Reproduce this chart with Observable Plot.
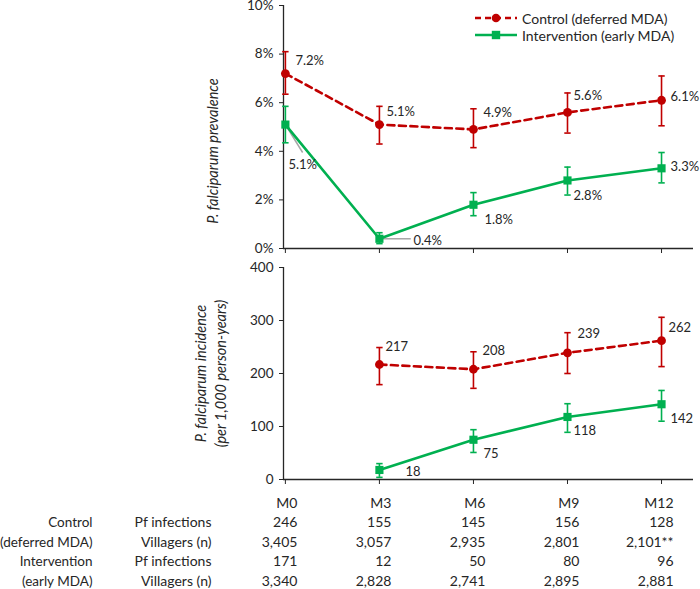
<!DOCTYPE html>
<html><head><meta charset="utf-8">
<script src="https://cdn.jsdelivr.net/npm/d3@7"></script>
<script src="https://cdn.jsdelivr.net/npm/@observablehq/plot@0.6"></script>
<style>
body{margin:0;background:#fff;font-family:Lato,'Open Sans',sans-serif;}
#wrap{position:relative;width:700px;height:589px;overflow:hidden;background:#fff}
#wrap svg{display:block}
#legend{position:absolute;left:475px;top:0;font-size:14px;color:#262626}
.lrow{position:absolute;left:0;white-space:nowrap;display:flex;align-items:center;height:18px}
.lrow svg{display:inline-block;margin-right:3px}
</style></head><body><div id="wrap"><div id="legend"></div></div>
<script>
// ---- data ----
const months = ["M0","M3","M6","M9","M12"];
const monthNum = [0,3,6,9,12];
const seriesNames = ["Control (deferred MDA)","Intervention (early MDA)"];

const prevControl   = [7.2, 5.1, 4.9, 5.6, 6.1];
const prevControlLo = [6.35,4.3, 4.15,4.75,5.05];
const prevControlHi = [8.1, 5.85,5.75,6.4, 7.1];
const prevInterv    = [5.1, 0.4, 1.8, 2.8, 3.3];
const prevIntervLo  = [4.35,0.2, 1.35,2.2, 2.7];
const prevIntervHi  = [5.85,0.65,2.3, 3.35,3.95];

const incControl   = [null,217,208,239,262];
const incControlLo = [null,179,172,200,213];
const incControlHi = [null,249,241,277,306];
const incInterv    = [null,18, 75, 118,142];
const incIntervLo  = [null,4,  51, 89, 110];
const incIntervHi  = [null,30, 94, 143,168];

const prevTicks = [0,2,4,6,8,10];
const incTicks = [0,100,200,300,400];

const tableGroup = ["Control","(deferred MDA)","Intervention","(early MDA)"];
const tableItem  = ["Pf infections","Villagers (n)","Pf infections","Villagers (n)"];
const pfControl   = ["246","155","145","156","128"];
const villControl = ["3,405","3,057","2,935","2,801","2,101**"];
const pfInterv    = ["171","12","50","80","96"];
const villInterv  = ["3,340","2,828","2,741","2,895","2,881"];

// ---- styling ----
const RED = "#C00000", GREEN = "#00B050", INK = "#262626", LEAD = "#A6A6A6";
const FONT = "Lato, 'Open Sans', sans-serif";
const xDomain = [-0.06, 13.02];
const hbar = {draw(ctx, size){ const w = Math.sqrt(size/Math.PI); ctx.moveTo(-w,0); ctx.lineTo(w,0); }};

function rows(vals, lo, hi, fmt){
  return monthNum.map((m,i)=>({m, v:vals[i], lo:lo[i], hi:hi[i], label: vals[i]==null ? null : fmt(vals[i])}))
                 .filter(d=>d.v!=null);
}
const pct = v => d3.format(".1f")(v) + "%";
const num = v => String(v);

function seriesMarks(data, color, dashed, symbol){
  return [
    Plot.line(data, {x:"m", y:"v", stroke:color, strokeWidth:2.6, strokeDasharray: dashed ? "7,4.5" : null}),
    Plot.ruleX(data, {x:"m", y1:"lo", y2:"hi", stroke:color, strokeWidth:1.6}),
    Plot.dot(data, {x:"m", y:"lo", symbol:hbar, r:3.2, fill:"none", stroke:color, strokeWidth:1.6}),
    Plot.dot(data, {x:"m", y:"hi", symbol:hbar, r:3.2, fill:"none", stroke:color, strokeWidth:1.6}),
    Plot.dot(data, {x:"m", y:"v", symbol, r: symbol==="square" ? 4.6 : 4.4, fill:color, stroke:"none"})
  ];
}
function labelMarks(data, offsets){
  return data.map((d,i)=>Plot.text([d], {x:"m", y:"v", text:"label", dx:offsets[i][0], dy:offsets[i][1],
    textAnchor:"start", fill:INK, fontSize:13}));
}
function frameMarks(ticks, fmt){
  return [
    Plot.axisY({ticks, tickFormat:fmt, tickSize:4, tickPadding:6, fontSize:13.5, stroke:INK, fill:INK, label:null}),
    Plot.axisX({ticks:monthNum, tickSize:5, tickFormat:()=>"", stroke:INK, label:null}),
    Plot.ruleX([xDomain[0]], {stroke:INK, strokeWidth:1.3}),
    Plot.ruleY([ticks[0]], {stroke:INK, strokeWidth:1.3})
  ];
}

const pC = rows(prevControl, prevControlLo, prevControlHi, pct);
const pI = rows(prevInterv, prevIntervLo, prevIntervHi, pct);
const iC = rows(incControl, incControlLo, incControlHi, num);
const iI = rows(incInterv, incIntervLo, incIntervHi, num);

// leader lines for the two intervention callouts (from the point toward its label)
const leaders = [
  {x1:pI[0].m, y1:pI[0].v, x2:pI[0].m+0.55, y2:pI[0].v-1.15},
  {x1:pI[1].m, y1:pI[1].v, x2:pI[1].m+1.0,  y2:pI[1].v}
];

const topPlot = Plot.plot({
  width:700, height:255, marginLeft:283, marginRight:7, marginTop:5, marginBottom:7,
  x:{domain:xDomain, axis:null},
  y:{domain:[0,10], axis:null},
  style:{fontFamily:FONT, color:INK, background:"transparent", overflow:"visible"},
  marks:[
    ...frameMarks(prevTicks, d=>d+"%"),
    Plot.link(leaders, {x1:"x1", y1:"y1", x2:"x2", y2:"y2", stroke:LEAD, strokeWidth:1.5}),
    ...seriesMarks(pC, RED, true, "circle"),
    ...seriesMarks(pI, GREEN, false, "square"),
    ...labelMarks(pC, [[10,-13],[7,-13],[10,-17],[6,-17],[9,-3]]),
    ...labelMarks(pI, [[3,40],[34,2],[11,15],[6,15],[9,-1]]),
    Plot.text(["P. falciparum prevalence"], {frameAnchor:"left", textAnchor:"middle", rotate:-90, dx:-70, dy:24,
      fontStyle:"italic", fontSize:14.5, fill:INK})
  ]
});

const botPlot = Plot.plot({
  width:700, height:231, marginLeft:283, marginRight:7, marginTop:12, marginBottom:7,
  x:{domain:xDomain, axis:null},
  y:{domain:[0,400], axis:null},
  style:{fontFamily:FONT, color:INK, background:"transparent", overflow:"visible"},
  marks:[
    ...frameMarks(incTicks, d=>String(d)),
    ...seriesMarks(iC, RED, true, "circle"),
    ...seriesMarks(iI, GREEN, false, "square"),
    ...labelMarks(iC, [[6,-18],[9,-18],[10,-19],[7,-13]]),
    ...labelMarks(iI, [[26,2],[10,14],[6,14],[9,15]]),
    Plot.text(["P. falciparum incidence\n(per 1,000 person-years)"], {frameAnchor:"left", textAnchor:"middle", rotate:-90, dx:-74, dy:0,
      fontStyle:"italic", fontSize:14.5, lineHeight:1.4, fill:INK})
  ]
});

// ---- table ----
const tableVals = [pfControl, villControl, pfInterv, villInterv];
const header = months.map((t,i)=>({row:0, m:monthNum[i], t}));
const cells = tableVals.flatMap((arr,r)=>arr.map((t,i)=>({row:r+1, m:monthNum[i], t})));
const rowLab = tableGroup.map((t,r)=>({row:r+1, g:t, item:tableItem[r]}));

const tablePlot = Plot.plot({
  width:700, height:103, marginLeft:283, marginRight:7, marginTop:17, marginBottom:8,
  x:{domain:xDomain, axis:null},
  y:{domain:[0,4], reverse:true, axis:null},
  style:{fontFamily:FONT, color:INK, background:"transparent", overflow:"visible"},
  marks:[
    Plot.text(header, {x:"m", y:"row", text:"t", textAnchor:"end", dx:12, fontSize:14, fill:INK, ariaLabel:"header"}),
    Plot.text(cells, {x:"m", y:"row", text:"t", textAnchor:"end", dx:12, fontSize:14, fill:INK}),
    Plot.text(rowLab, {frameAnchor:"left", y:"row", text:"g", textAnchor:"end", dx:-191, fontSize:13.5, fill:INK}),
    Plot.text(rowLab, {frameAnchor:"left", y:"row", text:"item", textAnchor:"end", dx:-72, fontSize:14, fill:INK})
  ]
});
d3.select(tablePlot).selectAll("g[aria-label=header] text").style("text-decoration","underline");

const wrap = document.getElementById("wrap");
wrap.insertBefore(tablePlot, wrap.firstChild);
wrap.insertBefore(botPlot, tablePlot);
wrap.insertBefore(topPlot, botPlot);

// ---- legend ----
const legendDefs = [
  {name:seriesNames[0], color:RED, dash:"6,4", marker:`<circle cx="21" cy="9" r="4.3" fill="${RED}"/>`},
  {name:seriesNames[1], color:GREEN, dash:null, marker:`<rect x="16.8" y="4.8" width="8.4" height="8.4" fill="${GREEN}"/>`}
];
document.getElementById("legend").innerHTML = legendDefs.map((d,i)=>
  `<div class="lrow" style="top:${9+i*17}px"><svg width="44" height="18"><line x1="0" y1="9" x2="42" y2="9" stroke="${d.color}" stroke-width="2.6"${d.dash?` stroke-dasharray="${d.dash}"`:""}/>${d.marker}</svg><span>${d.name}</span></div>`
).join("");
</script>
</body></html>
